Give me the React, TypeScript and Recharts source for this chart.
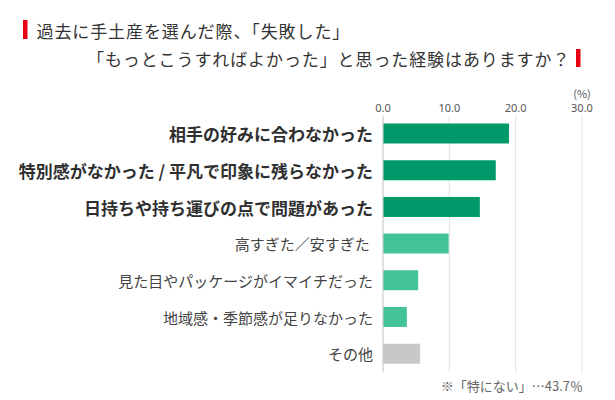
import { BarChart, Bar, XAxis, YAxis, CartesianGrid, Cell } from 'recharts';

const categories = [
  '相手の好みに合わなかった',
  '特別感がなかった / 平凡で印象に残らなかった',
  '日持ちや持ち運びの点で問題があった',
  '高すぎた／安すぎた ',
  '見た目やパッケージがイマイチだった',
  '地域感・季節感が足りなかった',
  'その他',
];
const percents = [19.0, 17.0, 14.6, 9.9, 5.3, 3.6, 5.6];
const xTicks = [0, 10, 20, 30];
const titleLines = [
  '過去に手土産を選んだ際、「失敗した」',
  '「もっとこうすればよかった」と思った経験はありますか？',
];
const unitLabel = '(%)';
const footnote = '※「特にない」…43.7％';

const barColors = ['#009a6a', '#009a6a', '#009a6a', '#44c398', '#44c398', '#44c398', '#c8c8c8'];

const data = categories.map((name, i) => ({ name, value: percents[i] }));

const JP = '"Noto Sans CJK JP", "Noto Sans", sans-serif';

function CategoryTick(props: any) {
  const { x, y, payload, index } = props;
  const strong = index < 3;
  return (
    <text
      x={x}
      y={y}
      textAnchor="end"
      dominantBaseline="central"
      fontFamily={JP}
      fontSize={strong ? 17 : 15}
      fontWeight={strong ? 700 : 400}
      fill={strong ? '#2f2f2f' : '#444'}
      style={{ whiteSpace: 'pre' }}
    >
      {payload.value}
    </text>
  );
}

export default function App() {
  return (
    <div style={{ position: 'absolute', left: 0, top: 0, width: 615, height: 400, background: '#fff' }}>
      <BarChart
        width={615}
        height={400}
        data={data}
        layout="vertical"
        barSize={20}
        margin={{ top: 85.6, right: 33, left: 0, bottom: 27.7 }}
      >
        <CartesianGrid horizontal={false} stroke="#e2e2e2" />
        <XAxis
          type="number"
          orientation="top"
          domain={[0, 30]}
          ticks={xTicks}
          tickFormatter={(v: number) => v.toFixed(1)}
          height={30}
          tickLine={false}
          axisLine={false}
          tickSize={0}
          tickMargin={4}
          tick={{ fill: '#555', fontSize: 11, fontFamily: '"Noto Sans", sans-serif' }}
        />
        <YAxis
          type="category"
          dataKey="name"
          width={383}
          interval={0}
          tickLine={false}
          tickSize={0}
          tickMargin={10}
          axisLine={{ stroke: '#cfcfcf' }}
          tick={<CategoryTick />}
        />
        <Bar dataKey="value" isAnimationActive={false}>
          {data.map((d, i) => (
            <Cell key={d.name} fill={barColors[i]} />
          ))}
        </Bar>
      </BarChart>
      <svg
        width={615}
        height={400}
        style={{ position: 'absolute', left: 0, top: 0, pointerEvents: 'none' }}
      >
        <rect x={23} y={20} width={4.5} height={19} fill="#e60012" />
        <text x={36.5} y={30} dominantBaseline="central" fontFamily={JP} fontSize={17} letterSpacing={0.9} fill="#333">
          {titleLines[0]}
        </text>
        <text x={87} y={58} dominantBaseline="central" fontFamily={JP} fontSize={17} letterSpacing={0.9} fill="#333">
          {titleLines[1]}
        </text>
        <rect x={576} y={49} width={4.5} height={18} fill="#e60012" />
        <text x={582} y={93} textAnchor="middle" dominantBaseline="central" fontFamily={JP} fontSize={11} fill="#555">
          {unitLabel}
        </text>
        <text x={583} y={385} textAnchor="end" dominantBaseline="central" fontFamily={JP} fontSize={13} fill="#666">
          {footnote}
        </text>
      </svg>
    </div>
  );
}
